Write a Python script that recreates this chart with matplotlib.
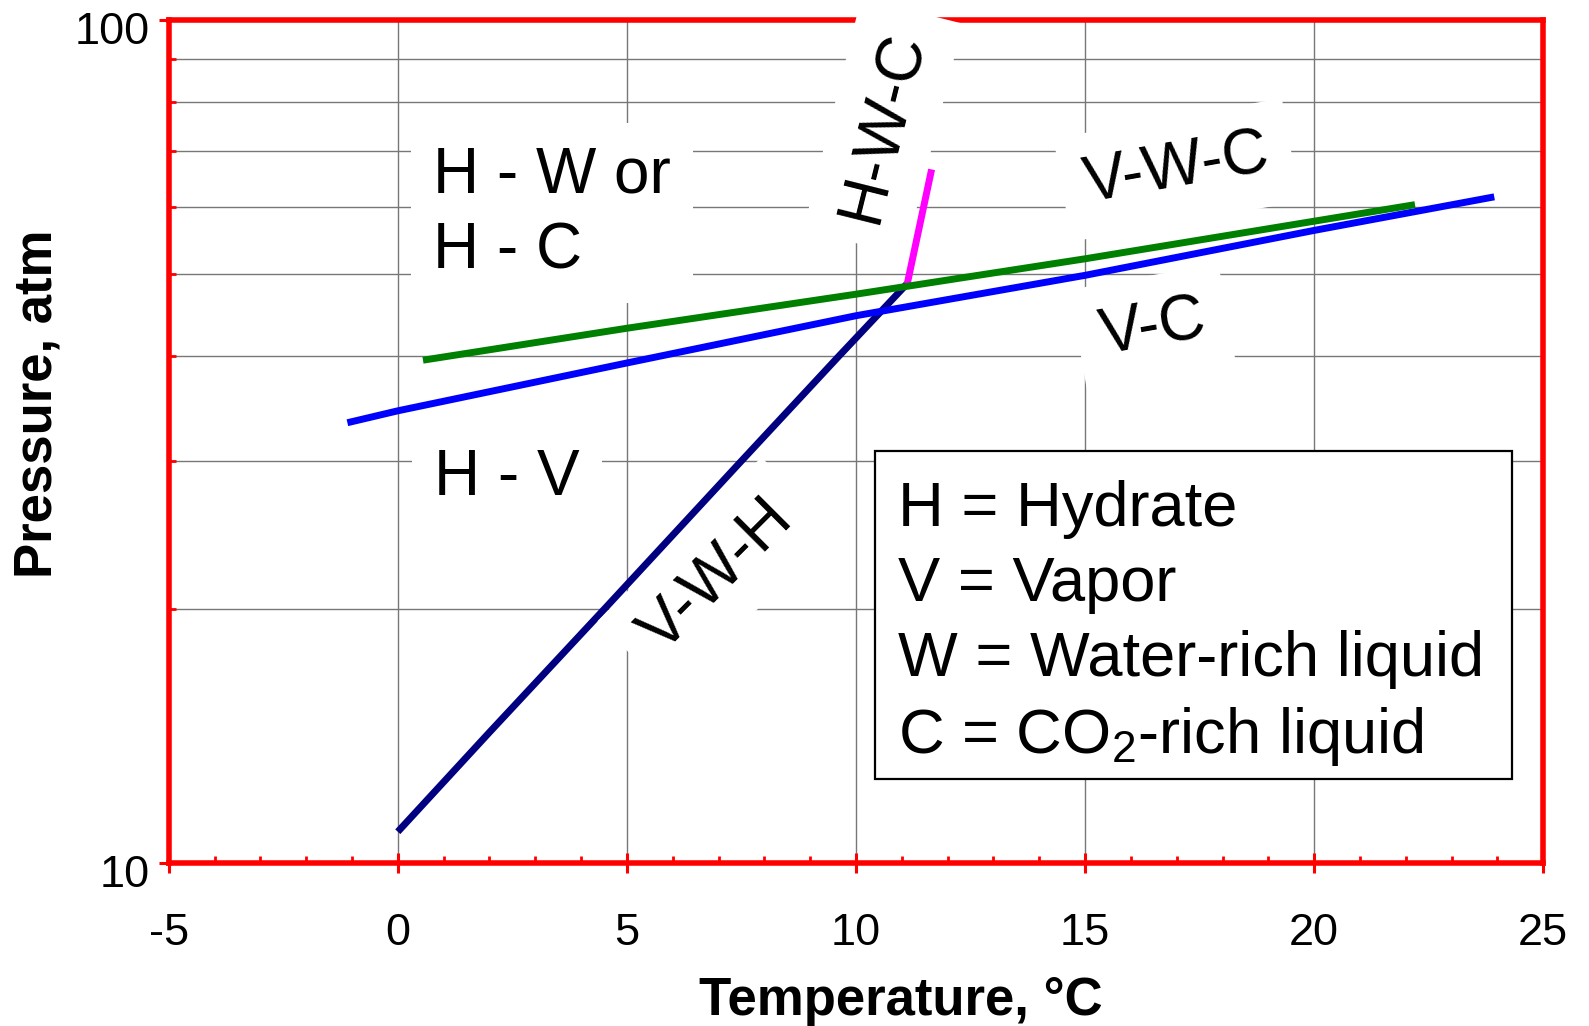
import matplotlib
matplotlib.use('Agg')
import matplotlib.pyplot as plt
from matplotlib.ticker import FixedLocator, NullFormatter, FixedFormatter, MultipleLocator
from matplotlib.patches import Rectangle
from matplotlib.transforms import ScaledTranslation

plt.rcParams['font.family'] = ['Liberation Sans', 'DejaVu Sans']
plt.rcParams['mathtext.fontset'] = 'custom'
plt.rcParams['mathtext.rm'] = 'Liberation Sans'
plt.rcParams['mathtext.it'] = 'Liberation Sans:italic'
plt.rcParams['mathtext.bf'] = 'Liberation Sans:bold'
plt.rcParams['axes.unicode_minus'] = False

# ---- data (Temperature in degC, Pressure in atm) ----
vwh_T = [0.0, 2.0, 4.5, 7.45, 9.6, 11.12]          # V-W-H
vwh_P = [10.9, 14.3, 20.0, 29.8, 39.8, 48.7]
vc_T = [-1.1, 0.0, 5.0, 10.0, 15.0, 20.0, 23.93]   # V-C
vc_P = [33.3, 34.4, 39.2, 44.6, 49.8, 56.3, 61.7]
vwc_T = [0.55, 5.0, 10.0, 15.0, 22.2]             # V-W-C
vwc_P = [39.5, 43.1, 47.3, 52.1, 60.4]
hwc_T = [11.12, 11.65]                            # H-W-C
hwc_P = [48.7, 66.5]

x_ticks = [-5, 0, 5, 10, 15, 20, 25]
y_ticks = [10, 100]
y_ticklabels = ['10', '100']
y_minor = [20, 30, 40, 50, 60, 70, 80, 90]

legend_lines = ['H = Hydrate', 'V = Vapor', 'W = Water-rich liquid',
                r'C = CO$_\mathrm{2}$-rich liquid']

W, H = 1589, 1026
fig = plt.figure(figsize=(W / 100, H / 100), dpi=100)
L, R, T, B = 168.7, 1543.3, 20.0, 863.3
ax = fig.add_axes([L / W, (H - B) / H, (R - L) / W, (B - T) / H])

ax.set_yscale('log')
ax.set_xlim(-5, 25)
ax.set_ylim(10, 100)

lw = 5
ax.plot(vwh_T, vwh_P, color='#000080', lw=lw, solid_capstyle='butt', zorder=2)
ax.plot(vc_T, vc_P, color='#0000FF', lw=lw, solid_capstyle='butt', zorder=2.1)
ax.plot(hwc_T, hwc_P, color='#FF00FF', lw=lw, solid_capstyle='butt', zorder=2.1)
ax.plot(vwc_T, vwc_P, color='#008000', lw=lw, solid_capstyle='butt', zorder=2.2)

# ticks
ax.xaxis.set_major_locator(FixedLocator(x_ticks))
ax.xaxis.set_minor_locator(MultipleLocator(1))
ax.yaxis.set_major_locator(FixedLocator(y_ticks))
ax.yaxis.set_major_formatter(FixedFormatter(y_ticklabels))
ax.yaxis.set_minor_locator(FixedLocator(y_minor))
ax.yaxis.set_minor_formatter(NullFormatter())

ax.tick_params(which='major', direction='inout', length=14, width=2.2, color='#FF0000',
               labelsize=32.5, labelcolor='black')
ax.tick_params(which='minor', direction='in', length=5, width=2.0, color='#FF0000')
ax.tick_params(axis='x', which='major', pad=29)
ax.tick_params(axis='y', which='major', pad=7)

ax.grid(True, axis='x', which='major', color='#777777', lw=1.0)
ax.grid(True, axis='y', which='minor', color='#777777', lw=1.0)
ax.grid(False, axis='y', which='major')

for s in ax.spines.values():
    s.set_color('#FF0000')
    s.set_linewidth(4)

offset = ScaledTranslation(0, -8 / 100, fig.dpi_scale_trans)
for lab in ax.get_yticklabels():
    lab.set_transform(lab.get_transform() + offset)

# region labels
box = dict(boxstyle='square,pad=0.35', fc='white', ec='none')
fs = 46
ax.text(0.77, 50.8, 'H - W or\nH - C', fontsize=fs, ha='left', va='baseline',
        linespacing=1.33, bbox=box, zorder=3)
ax.text(0.79, 27.3, 'H - V', fontsize=fs, ha='left', va='baseline', bbox=box, zorder=3)
ax.text(6.955, 21.9, 'V-W-H', fontsize=fs, ha='center', va='center', rotation=45,
        bbox=box, zorder=3)
ax.text(10.59, 74.7, 'H-W-C', fontsize=fs, ha='center', va='center', rotation=76,
        bbox=box, zorder=5, clip_on=False)
ax.text(17.0, 66.4, 'V-W-C', fontsize=fs, ha='center', va='center', rotation=10,
        bbox=box, zorder=3)
ax.text(16.48, 43.1, 'V-C', fontsize=fs, ha='center', va='center', rotation=10,
        bbox=box, zorder=3)

# legend box
x0, x1 = (874.7 - L) / (R - L), (1512 - L) / (R - L)
y0, y1 = (B - 779) / (B - T), (B - 451) / (B - T)
ax.add_patch(Rectangle((x0, y0), x1 - x0, y1 - y0, transform=ax.transAxes,
                       fc='white', ec='black', lw=1.6, zorder=4))
ax.text((898 - L) / (R - L), (B - 753) / (B - T), '\n'.join(legend_lines),
        transform=ax.transAxes, fontsize=45.5, ha='left', va='baseline',
        linespacing=1.34, zorder=5)

fig.text(900.8 / W, 1 - 1015 / H, 'Temperature, °C', ha='center', va='baseline',
         fontsize=38, fontweight='bold')
fig.text(38 / W, 1 - 404 / H, 'Pressure, atm', ha='center', va='center',
         rotation=90, fontsize=38, fontweight='bold')

fig.savefig('out.png', dpi=100)
